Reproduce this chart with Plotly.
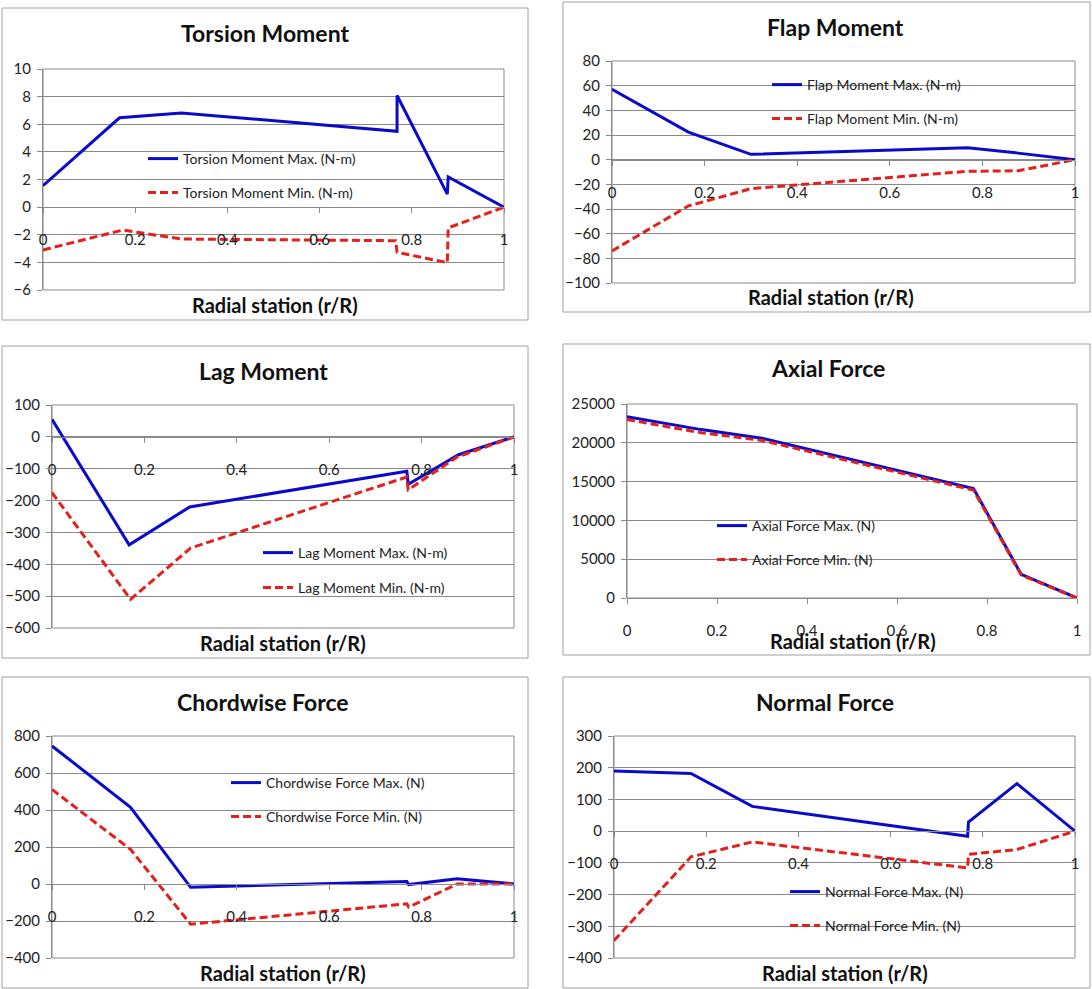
import plotly.graph_objects as go

W, H = 1092, 989
FONT = "Lato"

# ---------------- data ----------------
x_ticks = [0, 0.2, 0.4, 0.6, 0.8, 1]
x_tick_labels = ["0", "0.2", "0.4", "0.6", "0.8", "1"]

torsion_r_max = [0, 0.166, 0.3, 0.768, 0.768, 0.877, 0.879, 1]
torsion_max = [1.55, 6.47, 6.82, 5.49, 8.08, 0.94, 2.19, 0]
torsion_r_min = [0, 0.173, 0.3, 0.765, 0.768, 0.877, 0.879, 1]
torsion_min = [-3.1, -1.66, -2.31, -2.43, -3.27, -4.02, -1.5, 0]

flap_r = [0, 0.165, 0.3, 0.768, 0.877, 1]
flap_max = [57, 22.4, 4.3, 9.7, 5.3, 0]
flap_min = [-74, -37.5, -23.5, -9.4, -9.0, 0]

lag_r_max = [0, 0.167, 0.298, 0.768, 0.771, 0.88, 1]
lag_max = [55, -339, -220, -108, -149, -56, 0]
lag_r_min = [0, 0.17, 0.3, 0.768, 0.771, 0.877, 1]
lag_min = [-175, -510, -349, -126, -166, -63, 0]

axial_r = [0, 0.165, 0.3, 0.77, 0.876, 1]
axial_max = [23350, 21700, 20600, 14100, 3050, 0]
axial_min = [23000, 21300, 20300, 13900, 2950, 0]

chord_r = [0, 0.17, 0.3, 0.768, 0.772, 0.877, 1]
chord_max = [746, 415, -18, 14, -3, 29, 0]
chord_min = [511, 187, -217, -107, -125, 0, 0]

normal_r = [0, 0.167, 0.3, 0.767, 0.769, 0.874, 1]
normal_max = [190, 182, 78, -16, 29, 150, 0]
normal_min = [-345, -81, -34, -116, -73, -58, 0]

titles = ["Torsion Moment", "Flap Moment", "Lag Moment",
          "Axial Force", "Chordwise Force", "Normal Force"]
x_title = "Radial station (r/R)"
names_max = ["Torsion Moment Max. (N-m)", "Flap Moment Max. (N-m)", "Lag Moment Max. (N-m)",
             "Axial Force Max. (N)", "Chordwise Force Max. (N)", "Normal Force Max. (N)"]
names_min = ["Torsion Moment Min. (N-m)", "Flap Moment Min. (N-m)", "Lag Moment Min. (N-m)",
             "Axial Force Min. (N)", "Chordwise Force Min. (N)", "Normal Force Min. (N)"]
y_ranges = [(-6, 10), (-100, 80), (-600, 100), (0, 25000), (-400, 800), (-400, 300)]
y_dticks = [2, 20, 100, 5000, 200, 100]

series = [
    (torsion_r_max, torsion_max, torsion_r_min, torsion_min),
    (flap_r, flap_max, flap_r, flap_min),
    (lag_r_max, lag_max, lag_r_min, lag_min),
    (axial_r, axial_max, axial_r, axial_min),
    (chord_r, chord_max, chord_r, chord_min),
    (normal_r, normal_max, normal_r, normal_min),
]

# ---------------- layout geometry (pixels) ----------------
plot_px = [(43, 504, 69, 290), (612, 1075, 61, 283), (52, 514, 405, 628),
           (627, 1077, 404, 598), (52, 514, 736, 958), (614, 1075, 736, 958)]
box_px = [(2, 8, 528, 320), (563, 2, 1090, 312), (2, 346, 528, 658),
          (563, 344, 1090, 655), (2, 677, 528, 988), (563, 677, 1090, 988)]
title_px = [(265, 33), (836, 27), (263, 371), (828, 368), (263, 702), (825, 702)]
xtitle_px = [(275, 305), (831, 297), (283, 643), (853, 641), (283, 973), (845, 973)]
legend_px = [(148, 159, 193), (772, 85, 119), (263, 553, 588),
             (717, 526, 560), (231, 783, 817), (790, 892, 926)]

BLUE = "#0a0acd"
RED = "#e3201b"
GRID = "#8a8a8a"


def fx(px):
    return px / W


def fy(py):
    return 1 - py / H


fig = go.Figure()
layout = dict(width=W, height=H,
              margin=dict(l=0, r=0, t=0, b=0, pad=0, autoexpand=False),
              paper_bgcolor="white", plot_bgcolor="white", showlegend=True,
              font=dict(family=FONT, size=14, color="#222222"))
shapes, annotations = [], []

for i in range(6):
    k = "" if i == 0 else str(i + 1)
    x0, x1, y0, y1 = plot_px[i]
    ymin, ymax = y_ranges[i]
    zero_py = y0 + (ymax - 0) / (ymax - ymin) * (y1 - y0)
    rmx, vmx, rmn, vmn = series[i]

    lk_max = "legend" if i == 0 else f"legend{2 * i + 1}"
    lk_min = f"legend{2 * i + 2}"

    fig.add_trace(go.Scatter(x=rmx, y=vmx, mode="lines", name=names_max[i],
                             line=dict(color=BLUE, width=3), showlegend=True,
                             xaxis="x" + k, yaxis="y" + k, legend=lk_max))
    fig.add_trace(go.Scatter(x=rmn, y=vmn, mode="lines", name=names_min[i],
                             line=dict(color=RED, width=3, dash="8px,4px"), showlegend=True,
                             xaxis="x" + k, yaxis="y" + k, legend=lk_min))

    layout["xaxis" + k] = dict(
        domain=[fx(x0), fx(x1)], range=[0, 1], anchor="free", position=fy(zero_py),
        tickvals=x_ticks, ticktext=x_tick_labels, showgrid=False, zeroline=False,
        showline=True, linecolor=GRID, linewidth=1, ticks="outside", ticklen=5,
        tickcolor=GRID, ticklabelstandoff=14, automargin=False,
        tickfont=dict(family=FONT, size=15, color="#222222"))
    layout["yaxis" + k] = dict(
        domain=[fy(y1), fy(y0)], range=[ymin, ymax], anchor="x" + k,
        dtick=y_dticks[i], tick0=ymin, tickformat="d", showgrid=True, gridcolor=GRID,
        gridwidth=1, zeroline=False, showline=True, linecolor=GRID, linewidth=1,
        ticks="outside", ticklen=5, tickcolor=GRID, automargin=False,
        ticklabelstandoff=3, tickfont=dict(family=FONT, size=15, color="#222222"))

    # plot-area frame
    shapes.append(dict(type="rect", xref=f"x{k} domain", yref=f"y{k} domain",
                       x0=0, x1=1, y0=0, y1=1, line=dict(color=GRID, width=1),
                       layer="below"))
    # chart border
    bx0, by0, bx1, by1 = box_px[i]
    shapes.append(dict(type="rect", xref="paper", yref="paper",
                       x0=fx(bx0), x1=fx(bx1), y0=fy(by1), y1=fy(by0),
                       line=dict(color="#a0a0a0", width=1)))
    # titles
    tx, ty = title_px[i]
    annotations.append(dict(text=f"<b>{titles[i]}</b>", x=fx(tx), y=fy(ty),
                            xref="paper", yref="paper", showarrow=False,
                            xanchor="center", yanchor="middle",
                            font=dict(family=FONT, size=23, color="#111111")))
    ax, ay = xtitle_px[i]
    annotations.append(dict(text=f"<b>{x_title}</b>", x=fx(ax), y=fy(ay),
                            xref="paper", yref="paper", showarrow=False,
                            xanchor="center", yanchor="middle",
                            font=dict(family=FONT, size=20, color="#111111")))
    # legends
    lx, ly_max, ly_min = legend_px[i]
    for lk, ly in ((lk_max, ly_max), (lk_min, ly_min)):
        layout[lk] = dict(x=fx(lx - 5), y=fy(ly), xanchor="left", yanchor="middle",
                          bgcolor="rgba(0,0,0,0)", borderwidth=0, visible=True,
                          font=dict(family=FONT, size=14, color="#222222"),
                          itemwidth=30)

layout["shapes"] = shapes
layout["annotations"] = annotations
fig.update_layout(**layout)
fig.write_html("out.html", config={"displayModeBar": False},
               post_script="document.body.style.margin='0';document.body.style.padding='0';")
